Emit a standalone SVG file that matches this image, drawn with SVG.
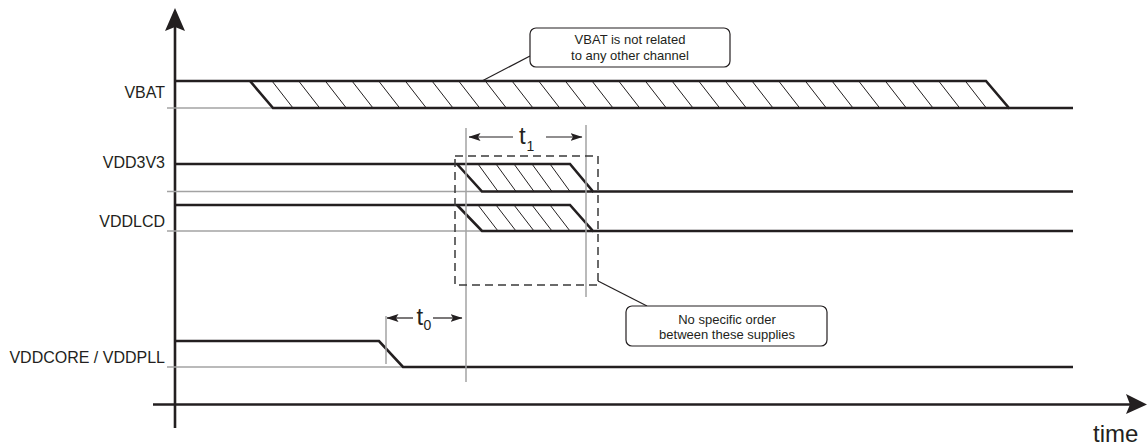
<svg xmlns="http://www.w3.org/2000/svg" width="1147" height="446" viewBox="0 0 1147 446">
<defs>
<style>
.sig{fill:none;stroke:#231f20;stroke-width:2.6;stroke-linejoin:miter}
.ref{fill:none;stroke:#a3a3a3;stroke-width:1.5}
.hatch{fill:none;stroke:#231f20;stroke-width:1}
.axis{fill:none;stroke:#231f20;stroke-width:2.6}
.dash{fill:none;stroke:#3a3a3a;stroke-width:1.5;stroke-dasharray:8 5}
.box{fill:#fff;stroke:#231f20;stroke-width:1.2}
.lead{fill:none;stroke:#231f20;stroke-width:1.2}
.lbl{font-family:"Liberation Sans",Arial,sans-serif;font-size:16px;fill:#231f20}
.note{font-family:"Liberation Sans",Arial,sans-serif;font-size:13px;fill:#231f20;text-anchor:middle}
.t{font-family:"Liberation Sans",Arial,sans-serif;font-size:24px;fill:#231f20}
.sub{font-family:"Liberation Sans",Arial,sans-serif;font-size:14px;fill:#231f20}
.head{fill:#231f20}
</style>
<marker id="ah" viewBox="0 0 12 10" refX="11.5" refY="5" markerWidth="12" markerHeight="10" markerUnits="userSpaceOnUse" orient="auto-start-reverse">
<path d="M0,1 L12,5 L0,9 L2.5,5 Z" fill="#231f20"/>
</marker>
</defs>

<g id="axes">
<line class="axis" x1="175" y1="428" x2="175" y2="26"/>
<path class="head" d="M175,8 L185,31 L175,27 L165,31 Z"/>
<line class="axis" x1="153" y1="404.5" x2="1130" y2="404.5"/>
<path class="head" d="M1147,404.5 L1126,394 L1130,404.5 L1126,414 Z"/>
<text class="t" x="1093" y="442" style="font-size:24px">time</text>
</g>

<g id="vbat">
<text class="lbl" x="165" y="98" text-anchor="end">VBAT</text>
<line class="ref" x1="167" y1="108" x2="273" y2="108"/>
<path class="sig" d="M175,81 H986 L1009,108 H1073"/>
<path class="sig" d="M250,81 L273,108 H1009"/>
<path class="hatch" d="M272,81l21,27M298.7,81l21,27M325.3,81l21,27M352,81l21,27M378.7,81l21,27M405.3,81l21,27M432,81l21,27M458.7,81l21,27M485.3,81l21,27M512,81l21,27M538.7,81l21,27M565.3,81l21,27M592,81l21,27M618.7,81l21,27M645.3,81l21,27M672,81l21,27M698.7,81l21,27M725.3,81l21,27M752,81l21,27M778.7,81l21,27M805.3,81l21,27M832,81l21,27M858.7,81l21,27M885.3,81l21,27M912,81l21,27M938.7,81l21,27M965.3,81l21,27"/>
</g>

<g id="vdd3v3">
<text class="lbl" x="165" y="168" text-anchor="end">VDD3V3</text>
<line class="ref" x1="167" y1="191.5" x2="482" y2="191.5"/>
<path class="sig" d="M175,164 H570 L593,191.5 H1073"/>
<path class="sig" d="M457,164 L482,191.5 H593"/>
<path class="hatch" d="M478,164l20,27.5M496,164l20,27.5M514,164l20,27.5M532,164l20,27.5M550,164l20,27.5"/>
</g>

<g id="vddlcd">
<text class="lbl" x="165" y="227" text-anchor="end">VDDLCD</text>
<line class="ref" x1="167" y1="231" x2="482" y2="231"/>
<path class="sig" d="M175,205 H570 L593,231 H1073"/>
<path class="sig" d="M457,205 L482,231 H593"/>
<path class="hatch" d="M478,205l20,26M496,205l20,26M514,205l20,26M532,205l20,26M550,205l20,26"/>
</g>

<g id="vddcore">
<text class="lbl" x="165" y="363" text-anchor="end">VDDCORE / VDDPLL</text>
<line class="ref" x1="167" y1="367" x2="403" y2="367"/>
<path class="sig" d="M175,341 H379 L403,367 H1073"/>
</g>

<g id="timing">
<line class="ref" x1="466" y1="128" x2="466" y2="382"/>
<line class="ref" x1="586" y1="125" x2="586" y2="297"/>
<line class="ref" x1="386" y1="316" x2="386" y2="364"/>
<rect class="dash" x="455" y="156" width="143" height="129"/>
<line class="lead" x1="513" y1="137" x2="469" y2="137" marker-end="url(#ah)"/>
<line class="lead" x1="546" y1="137" x2="582" y2="137" marker-end="url(#ah)"/>
<text class="t" x="519" y="144">t</text>
<text class="sub" x="526.5" y="151">1</text>
<line class="lead" x1="413" y1="318" x2="387" y2="318" marker-end="url(#ah)"/>
<line class="lead" x1="433" y1="318" x2="462" y2="318" marker-end="url(#ah)"/>
<text class="t" x="416.5" y="325">t</text>
<text class="sub" x="423.5" y="330">0</text>
</g>

<g id="note-vbat">
<line class="lead" x1="530" y1="56" x2="482" y2="81"/>
<rect class="box" x="530" y="28" width="200" height="39" rx="6"/>
<text class="note" x="630" y="44">VBAT is not related</text>
<text class="note" x="630" y="60">to any other channel</text>
</g>

<g id="note-order">
<line class="lead" x1="647" y1="306" x2="598" y2="281"/>
<rect class="box" x="626" y="306" width="201" height="40" rx="6"/>
<text class="note" x="727" y="324">No specific order</text>
<text class="note" x="727" y="339">between these supplies</text>
</g>
</svg>
